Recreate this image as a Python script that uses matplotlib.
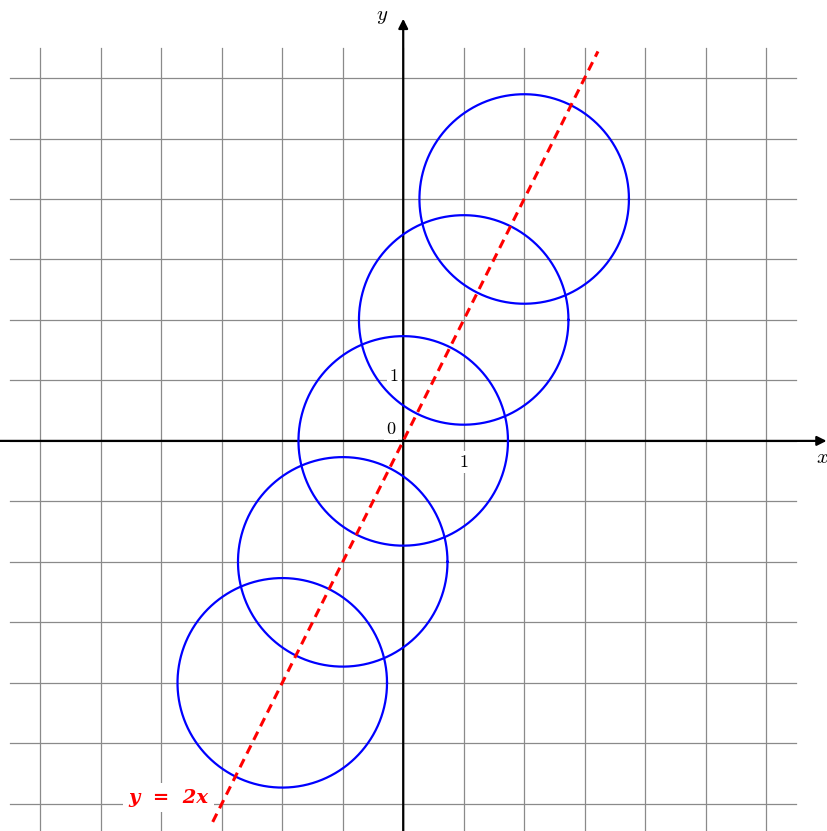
import numpy as np
import matplotlib.pyplot as plt

# circle centres lie on y = 2x, radius sqrt(3)
centers_x = [-2, -1, 0, 1, 2]
centers_y = [-4, -2, 0, 2, 4]
radius = np.sqrt(3)

line_x = [-3.15, 3.22]
grid_ticks = list(range(-6, 7))

plt.rcParams['mathtext.fontset'] = 'cm'
plt.rcParams['font.family'] = 'DejaVu Serif'

fig = plt.figure(figsize=(8.27, 8.31), dpi=100)
ax = fig.add_axes([0, 0, 1, 1])
ax.set_xlim(-6.66, 7.0)
ax.set_ylim(-6.45, 7.29)
ax.set_aspect('equal')
ax.axis('off')

# grid
for g in grid_ticks:
    ax.plot([g, g], [-6.5, 6.5], color='#8a8a8a', lw=0.9, zorder=1)
    ax.plot([-6.5, 6.5], [g, g], color='#8a8a8a', lw=0.9, zorder=1)

# axes with arrows
ax.annotate('', xy=(7.0, 0), xytext=(-6.7, 0),
            arrowprops=dict(arrowstyle='-|>', color='black', lw=1.6,
                            mutation_scale=14, shrinkA=0, shrinkB=0), zorder=3)
ax.annotate('', xy=(0, 6.98), xytext=(0, -6.5),
            arrowprops=dict(arrowstyle='-|>', color='black', lw=1.6,
                            mutation_scale=14, shrinkA=0, shrinkB=0), zorder=3)

# circles
t = np.linspace(0, 2 * np.pi, 400)
for cx, cy in zip(centers_x, centers_y):
    ax.plot(cx + radius * np.cos(t), cy + radius * np.sin(t),
            color='#0000ff', lw=1.6, zorder=4)

# line y = 2x
lx = np.array(line_x)
ax.plot(lx, 2 * lx, color='#ff0000', lw=2.2, ls=(0, (3, 2.0)), zorder=5)

# labels
box = dict(facecolor='white', edgecolor='none', pad=1.5)
ax.text(-0.35, 7.02, r'$y$', fontsize=15, ha='center', va='center', zorder=6)
ax.text(6.93, -0.27, r'$x$', fontsize=15, ha='center', va='center', zorder=6)
ax.text(1.0, -0.35, r'$\mathrm{1}$', fontsize=13, ha='center', va='center', bbox=box, zorder=6)
ax.text(-0.15, 1.07, r'$\mathrm{1}$', fontsize=13, ha='center', va='center', bbox=box, zorder=6)
ax.text(-0.2, 0.2, r'$\mathrm{0}$', fontsize=13, ha='center', va='center', bbox=box, zorder=6)
ax.text(-3.88, -5.9, 'y  =  2x', fontsize=14, color='#ff0000', fontweight='bold',
        fontstyle='italic', family='DejaVu Serif', ha='center', va='center',
        bbox=dict(facecolor='white', edgecolor='none', pad=4), zorder=6)

fig.savefig('out.png', dpi=100)
